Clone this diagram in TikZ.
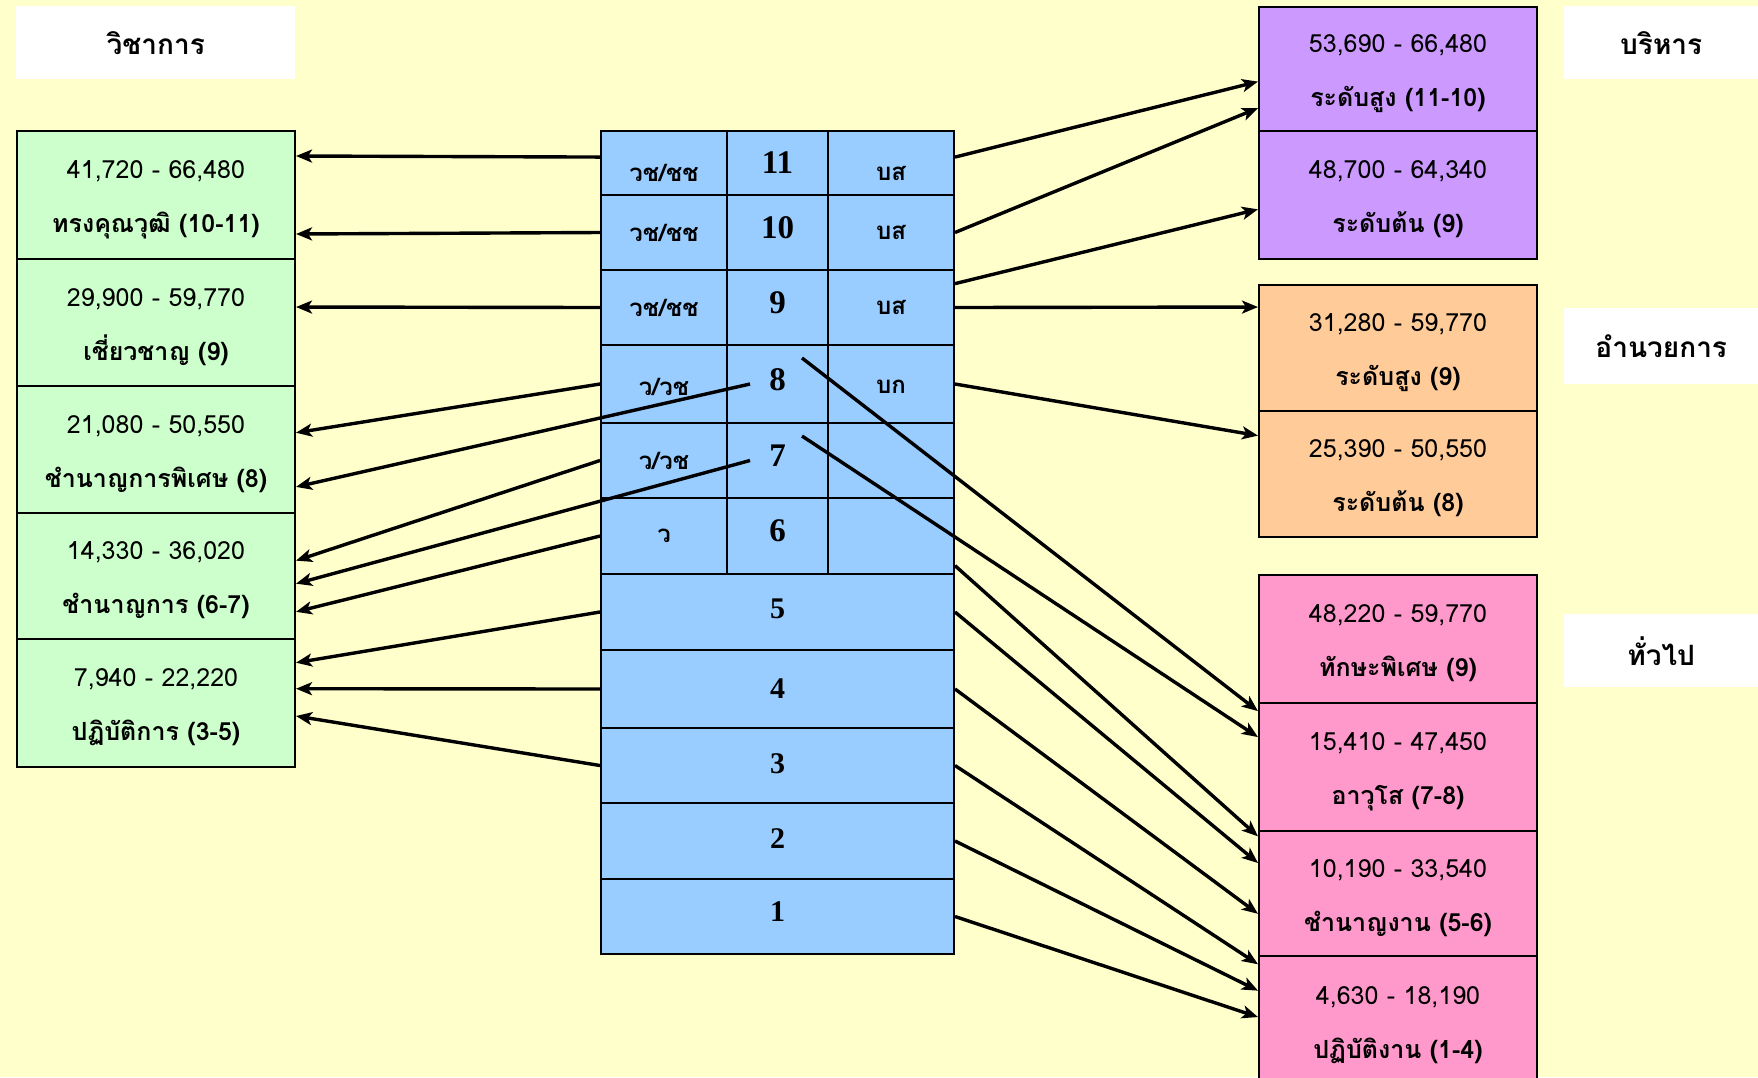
\documentclass[tikz,border=0pt]{standalone}
\usepackage{fontspec}
\usetikzlibrary{arrows.meta,calc}
\newfontfamily\thaifont[Script=Thai]{Loma}
\newfontfamily\serifnum{Liberation Serif}
\definecolor{bgyellow}{HTML}{FFFFCC}
\definecolor{boxgreen}{HTML}{CCFFCC}
\definecolor{boxblue}{HTML}{99CCFF}
\definecolor{boxpurple}{HTML}{CC99FF}
\definecolor{boxorange}{HTML}{FFCC99}
\definecolor{boxpink}{HTML}{FF99CC}
\newcommand\salary[2]{\raisebox{-5pt}{\begin{tabular}{@{}c@{}}#1\\\textbf{#2}\end{tabular}}}
\newcommand\shiftup[2]{\raisebox{#1}[\height][\depth]{#2}}
\begin{document}
\begin{tikzpicture}[x=1pt,y=-1pt,
  titlebox/.style={fill=white, anchor=north west, inner sep=0pt, align=center,
    font=\thaifont\bfseries\fontsize{28}{32}\selectfont},
  salbox/.style={draw=black, line width=2pt, anchor=north west, inner sep=0pt,
    minimum width=278pt, font=\thaifont\fontsize{25}{54}\selectfont},
  mcell/.style={draw=black, line width=2pt, fill=boxblue, anchor=north west, inner sep=0pt},
  mthai/.style={font=\thaifont\bfseries\fontsize{24}{28}\selectfont},
  mnum/.style={font=\serifnum\bfseries\fontsize{33}{40}\selectfont},
  mnumb/.style={font=\serifnum\bfseries\fontsize{30}{36}\selectfont},
  conn/.style={line width=3.4pt, -{Stealth[length=16pt,width=13pt,inset=4pt]}}]
\useasboundingbox (0,0) rectangle (1758,1077);
\clip (0,0) rectangle (1758,1077);
\fill[bgyellow] (0,0) rectangle (1758,1077);

% titles
\node[titlebox, minimum width=279pt, minimum height=73pt] (tVichakan) at (16,6) {วิชาการ};
\node[titlebox, minimum width=194pt, minimum height=73pt] (tBorihan) at (1564,6) {บริหาร};
\node[titlebox, minimum width=194pt, minimum height=76pt] (tAmnuay) at (1564,308) {อำนวยการ};
\node[titlebox, minimum width=194pt, minimum height=73pt] (tThuapai) at (1564,614) {ทั่วไป};

% left (academic) boxes
\node[salbox, fill=boxgreen, minimum height=128pt] (g1) at (16,130) {\salary{41,720 - 66,480}{ทรงคุณวุฒิ (10-11)}};
\node[salbox, fill=boxgreen, minimum height=127pt] (g2) at (16,258) {\salary{29,900 - 59,770}{เชี่ยวชาญ (9)}};
\node[salbox, fill=boxgreen, minimum height=127pt] (g3) at (16,385) {\salary{21,080 - 50,550}{ชำนาญการพิเศษ (8)}};
\node[salbox, fill=boxgreen, minimum height=126pt] (g4) at (16,512) {\salary{14,330 - 36,020}{ชำนาญการ (6-7)}};
\node[salbox, fill=boxgreen, minimum height=128pt] (g5) at (16,638) {\salary{7,940 - 22,220}{ปฏิบัติการ (3-5)}};

% right boxes
\node[salbox, fill=boxpurple, minimum height=124pt] (p1) at (1258,6) {\salary{53,690 - 66,480}{ระดับสูง (11-10)}};
\node[salbox, fill=boxpurple, minimum height=128pt] (p2) at (1258,130) {\salary{48,700 - 64,340}{ระดับต้น (9)}};
\node[salbox, fill=boxorange, minimum height=126pt] (o1) at (1258,284) {\salary{31,280 - 59,770}{ระดับสูง (9)}};
\node[salbox, fill=boxorange, minimum height=126pt] (o2) at (1258,410) {\salary{25,390 - 50,550}{ระดับต้น (8)}};
\node[salbox, fill=boxpink, minimum height=128pt] (k1) at (1258,574) {\salary{48,220 - 59,770}{ทักษะพิเศษ (9)}};
\node[salbox, fill=boxpink, minimum height=128pt] (k2) at (1258,702) {\salary{15,410 - 47,450}{อาวุโส (7-8)}};
\node[salbox, fill=boxpink, minimum height=125pt] (k3) at (1258,830) {\salary{10,190 - 33,540}{ชำนาญงาน (5-6)}};
\node[salbox, fill=boxpink, minimum height=130pt] (k4) at (1258,955) {\salary{4,630 - 18,190}{ปฏิบัติงาน (1-4)}};

% middle table
\node[mcell, mthai, minimum width=126pt, minimum height=64pt] (L11) at (600,130) {\shiftup{-10pt}{วช/ชช}};
\node[mcell, mnum,  minimum width=101pt, minimum height=64pt] (N11) at (726,130) {11};
\node[mcell, mthai, minimum width=126pt, minimum height=64pt] (B11) at (827,130) {\shiftup{-10pt}{บส}};
\node[mcell, mthai, minimum width=126pt, minimum height=75pt] (L10) at (600,194) {วช/ชช};
\node[mcell, mnum,  minimum width=101pt, minimum height=75pt] (N10) at (726,194) {\shiftup{4.5pt}{10}};
\node[mcell, mthai, minimum width=126pt, minimum height=75pt] (B10) at (827,194) {บส};
\node[mcell, mthai, minimum width=126pt, minimum height=75pt] (L9) at (600,269) {วช/ชช};
\node[mcell, mnum,  minimum width=101pt, minimum height=75pt] (N9) at (726,269) {\shiftup{5pt}{9}};
\node[mcell, mthai, minimum width=126pt, minimum height=75pt] (B9) at (827,269) {บส};
\node[mcell, mthai, minimum width=126pt, minimum height=78pt] (L8) at (600,344) {\shiftup{-3pt}{ว/วช}};
\node[mcell, mnum,  minimum width=101pt, minimum height=78pt] (N8) at (726,344) {\shiftup{4pt}{8}};
\node[mcell, mthai, minimum width=126pt, minimum height=78pt] (B8) at (827,344) {\shiftup{-3pt}{บก}};
\node[mcell, mthai, minimum width=126pt, minimum height=75pt] (L7) at (600,422) {ว/วช};
\node[mcell, mnum,  minimum width=101pt, minimum height=75pt] (N7) at (726,422) {\shiftup{5pt}{7}};
\node[mcell, minimum width=126pt, minimum height=75pt] (B7) at (827,422) {};
\node[mcell, mthai, minimum width=126pt, minimum height=76pt] (L6) at (600,497) {ว};
\node[mcell, mnum,  minimum width=101pt, minimum height=76pt] (N6) at (726,497) {\shiftup{5pt}{6}};
\node[mcell, minimum width=126pt, minimum height=76pt] (B6) at (827,497) {};
\node[mcell, mnumb, minimum width=353pt, minimum height=76pt] (R5) at (600,573) {\shiftup{3pt}{5}};
\node[mcell, mnumb, minimum width=353pt, minimum height=78pt] (R4) at (600,649) {4};
\node[mcell, mnumb, minimum width=353pt, minimum height=75pt] (R3) at (600,727) {\shiftup{2pt}{3}};
\node[mcell, mnumb, minimum width=353pt, minimum height=76pt] (R2) at (600,802) {\shiftup{2pt}{2}};
\node[mcell, mnumb, minimum width=353pt, minimum height=75pt] (R1) at (600,878) {\shiftup{5pt}{1}};

% arrows to the left (academic)
\draw[conn] ($(L11.north west)!0.41!(L11.south west)$) -- ($(g1.north east)!0.20!(g1.south east)$);
\draw[conn] (L10.west) -- ($(g1.north east)!0.80!(g1.south east)$);
\draw[conn] (L9.west) -- ($(g2.north east)!0.38!(g2.south east)$);
\draw[conn] (L8.west) -- ($(g3.north east)!0.37!(g3.south east)$);
\draw[conn] ([xshift=24pt]N8.west) -- ($(g3.north east)!0.79!(g3.south east)$);
\draw[conn] (L7.west) -- ($(g4.north east)!0.38!(g4.south east)$);
\draw[conn] ([xshift=24pt]N7.west) -- ($(g4.north east)!0.56!(g4.south east)$);
\draw[conn] (L6.west) -- ($(g4.north east)!0.78!(g4.south east)$);
\draw[conn] (R5.west) -- ($(g5.north east)!0.19!(g5.south east)$);
\draw[conn] (R4.west) -- ($(g5.north east)!0.39!(g5.south east)$);
\draw[conn] (R3.west) -- ($(g5.north east)!0.60!(g5.south east)$);

% arrows to the right (management, director)
\draw[conn] ($(B11.north east)!0.41!(B11.south east)$) -- ($(p1.north west)!0.60!(p1.south west)$);
\draw[conn] (B10.east) -- ($(p1.north west)!0.81!(p1.south west)$);
\draw[conn] ($(B9.north east)!0.19!(B9.south east)$) -- ($(p2.north west)!0.61!(p2.south west)$);
\draw[conn] (B9.east) -- ($(o1.north west)!0.18!(o1.south west)$);
\draw[conn] (B8.east) -- ($(o2.north west)!0.20!(o2.south west)$);

% arrows to the right (general)
\draw[conn] ([shift={(76,14)}]N8.north west) -- ($(k2.north west)!0.07!(k2.south west)$);
\draw[conn] ([shift={(76,14)}]N7.north west) -- ($(k2.north west)!0.27!(k2.south west)$);
\draw[conn] ($(B6.north east)!0.88!(B6.south east)$) -- ($(k3.north west)!0.05!(k3.south west)$);
\draw[conn] (R5.east) -- ($(k3.north west)!0.26!(k3.south west)$);
\draw[conn] (R4.east) -- ($(k3.north west)!0.66!(k3.south west)$);
\draw[conn] (R3.east) -- ($(k4.north west)!0.07!(k4.south west)$);
\draw[conn] (R2.east) -- ($(k4.north west)!0.27!(k4.south west)$);
\draw[conn] (R1.east) -- ($(k4.north west)!0.47!(k4.south west)$);
\end{tikzpicture}
\end{document}
